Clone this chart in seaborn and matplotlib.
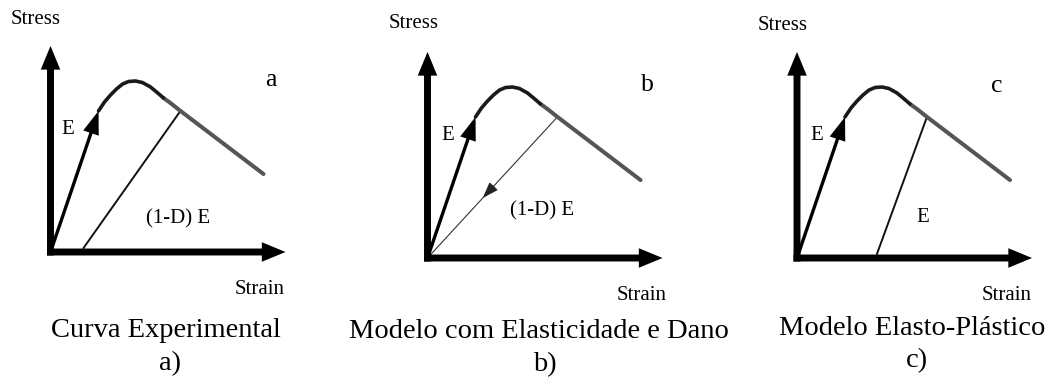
import matplotlib
matplotlib.use("Agg")
import matplotlib.pyplot as plt
import pandas as pd
import seaborn as sns

# ---- curve data (strain normalised by peak strain, stress by peak stress) ----
elastic_strain = [0.0, 0.565]
elastic_stress = [0.0, 0.825]

peak_strain = [0.565, 0.635, 0.706, 0.776, 0.847, 0.918, 1.0, 1.082, 1.176, 1.247, 1.329]
peak_stress = [0.825, 0.877, 0.918, 0.953, 0.982, 0.997, 1.0, 0.991, 0.965, 0.936, 0.901]

softening_strain = [1.329, 1.412, 1.529, 2.506]
softening_stress = [0.901, 0.871, 0.825, 0.456]

# unloading branches starting on the softening curve
unload_a_strain = [1.529, 0.388]
unload_a_stress = [0.825, 0.023]
unload_b_strain = [1.529, 0.0]
unload_b_stress = [0.825, 0.0]
unload_b_arrow_strain = [0.78, 0.65]
unload_b_arrow_stress = [0.421, 0.351]
unload_c_strain = [1.529, 0.94]
unload_c_stress = [0.825, 0.023]

axis_strain_max = 2.765
axis_stress_max = 1.205

panel_letters = ["a", "b", "c"]
captions = ["Curva Experimental", "Modelo com Elasticidade e Dano", "Modelo Elasto-Plástico"]
caption_tags = ["a)", "b)", "c)"]
unload_labels = ["(1-D) E", "(1-D) E", "E"]

W, H = 1048, 380
PX_STRAIN, PX_STRESS = 85.0, 171.0
PAD_L, PAD_R, PAD_B, PAD_T = 20, 250, 20, 220

sns.set_theme(style="white")
plt.rcParams["font.family"] = ["Liberation Serif", "DejaVu Serif"]

fig = plt.figure(figsize=(W / 100, H / 100), dpi=100)
fig.patch.set_facecolor("white")


def fx(x):
    return x / W


def fy(y):
    return 1 - y / H


def line(ax, xs, ys, color, lw):
    df = pd.DataFrame({"strain": xs, "stress": ys})
    sns.lineplot(data=df, x="strain", y="stress", ax=ax, color=color, lw=lw,
                 sort=False, estimator=None, solid_capstyle="round",
                 solid_joinstyle="round", legend=False)


def arrow(ax, x0, y0, x1, y1, lw, hl, hw, scale, color="black"):
    ax.annotate("", xy=(x1, y1), xytext=(x0, y0),
                arrowprops=dict(arrowstyle=f"-|>,head_length={hl},head_width={hw}",
                                lw=lw, color=color, shrinkA=0, shrinkB=0,
                                mutation_scale=scale, joinstyle="miter",
                                capstyle="butt"))


origins = [(50.5, 252), (427.5, 258), (797, 258)]
unloads = [(unload_a_strain, unload_a_stress),
           (unload_b_strain, unload_b_stress),
           (unload_c_strain, unload_c_stress)]

for i, (ox, oy) in enumerate(origins):
    ax = fig.add_axes([fx(ox - PAD_L), fy(oy + PAD_B),
                       (PAD_L + PAD_R) / W, (PAD_B + PAD_T) / H])
    ax.set_xlim(-PAD_L / PX_STRAIN, PAD_R / PX_STRAIN)
    ax.set_ylim(-PAD_B / PX_STRESS, PAD_T / PX_STRESS)
    ax.axis("off")

    # unloading branch
    us, uy = unloads[i]
    if i == 1:
        line(ax, us, uy, "#333333", 0.8)
        arrow(ax, unload_b_arrow_strain[0], unload_b_arrow_stress[0],
              unload_b_arrow_strain[1], unload_b_arrow_stress[1],
              0.8, 1.0, 0.35, 10, color="#222222")
    else:
        line(ax, us, uy, "#111111", 1.4)

    # softening and peak regions
    line(ax, softening_strain, softening_stress, "#555555", 2.9)
    line(ax, peak_strain, peak_stress, "#1a1a1a", 2.6)

    # elastic loading arrow
    arrow(ax, elastic_strain[0], elastic_stress[0],
          elastic_strain[1], elastic_stress[1], 2.4, 1.2, 0.42, 10)

    # coordinate axes
    arrow(ax, -3.5 / PX_STRAIN, 0, axis_strain_max, 0, 5, 0.8, 0.33, 10)
    arrow(ax, 0, -3.5 / PX_STRESS, 0, axis_stress_max, 5, 0.8, 0.33, 10)

# small labels inside the panels
small = 15
label_pos = [
    dict(stress=(36, 19), strain=(260, 290), E=(68, 130), unl=(178, 219), letter=(271, 86)),
    dict(stress=(414, 24), strain=(642, 295), E=(448, 136), unl=(542, 211), letter=(647, 91)),
    dict(stress=(783, 25), strain=(1007, 295), E=(817, 136), unl=(923, 217), letter=(997, 92)),
]
for i, p in enumerate(label_pos):
    fig.text(fx(p["stress"][0]), fy(p["stress"][1]), "Stress", fontsize=small,
             ha="center", va="center", color="black")
    fig.text(fx(p["strain"][0]), fy(p["strain"][1]), "Strain", fontsize=small,
             ha="center", va="center", color="black")
    fig.text(fx(p["E"][0]), fy(p["E"][1]), "E", fontsize=small,
             ha="center", va="center", color="black")
    fig.text(fx(p["unl"][0]), fy(p["unl"][1]), unload_labels[i], fontsize=small,
             ha="center", va="center", color="black")
    fig.text(fx(p["letter"][0]), fy(p["letter"][1]), panel_letters[i], fontsize=18.5,
             ha="center", va="baseline", color="black")

# captions under each panel
cap_pos = [(166, 337, 170, 364), (539, 338, 545, 365), (912, 335, 917, 361)]
for i, (cx, cy, tx, ty) in enumerate(cap_pos):
    fig.text(fx(cx), fy(cy), captions[i], fontsize=20.5, ha="center",
             va="baseline", color="black")
    fig.text(fx(tx), fy(ty), caption_tags[i], fontsize=20.5, ha="center",
             va="center", color="black")

fig.savefig("out.png", dpi=100, facecolor="white")
